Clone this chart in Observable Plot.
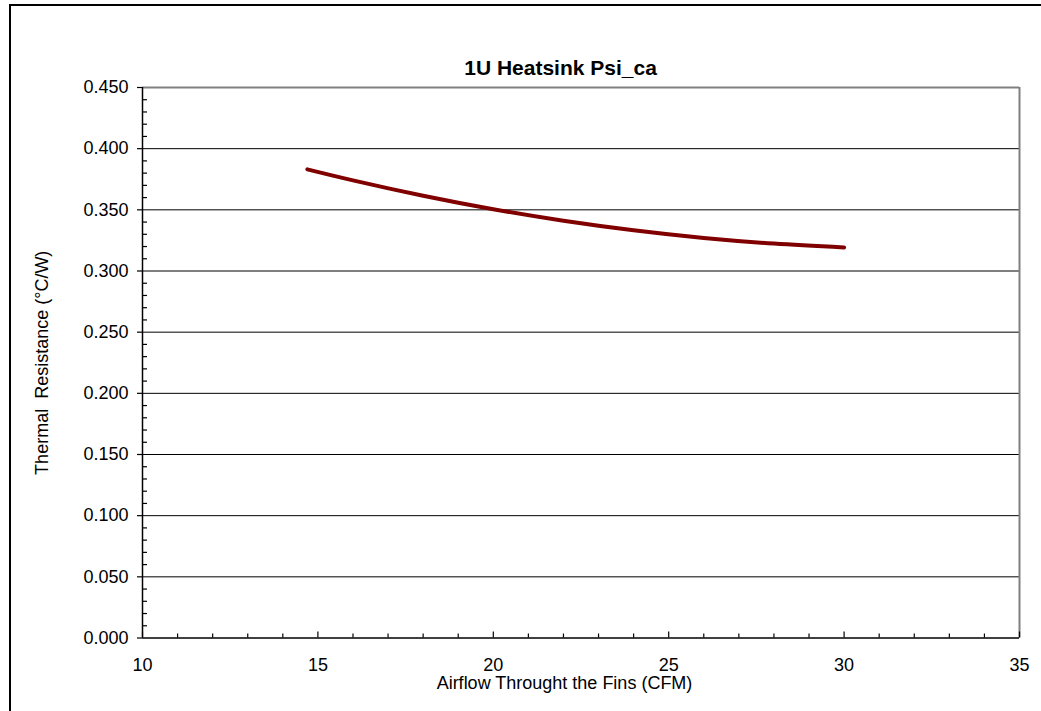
<!DOCTYPE html>
<html>
<head>
<meta charset="utf-8">
<script src="https://cdn.jsdelivr.net/npm/d3@7"></script>
<script src="https://cdn.jsdelivr.net/npm/@observablehq/plot@0.6"></script>
<style>
  html, body { margin: 0; padding: 0; background: #fff; overflow: hidden; }
  #wrap { position: relative; width: 1041px; height: 711px; }
  #border { position: absolute; left: 9px; top: 4px; width: 1200px; height: 900px;
            border-left: 2px solid #000; border-top: 2px solid #000; pointer-events: none; }
  #chart { position: absolute; left: 0; top: 0; }
</style>
</head>
<body>
<div id="wrap"><div id="chart"></div><div id="border"></div></div>
<script>
const titleText = "1U Heatsink Psi_ca";
const xLabel = "Airflow Throught the Fins (CFM)";
const yLabel = "Thermal  Resistance (°C/W)";

const xMajor = [10, 15, 20, 25, 30, 35];
const xMinor = [11,12,13,14,16,17,18,19,21,22,23,24,26,27,28,29,31,32,33,34];
const yMajor = [0, 0.05, 0.10, 0.15, 0.20, 0.25, 0.30, 0.35, 0.40, 0.45];
const yMinor = [0.01,0.02,0.03,0.04,0.06,0.07,0.08,0.09,0.11,0.12,0.13,0.14,0.16,0.17,0.18,0.19,
                0.21,0.22,0.23,0.24,0.26,0.27,0.28,0.29,0.31,0.32,0.33,0.34,0.36,0.37,0.38,0.39,
                0.41,0.42,0.43,0.44];

const airflow = [14.7, 16, 18, 20, 22, 24, 26, 28, 30];
const psiCa   = [0.3831, 0.3741, 0.3615, 0.3505, 0.3411, 0.3333, 0.3270, 0.3224, 0.3193];

const data = airflow.map((x, i) => ({x, y: psiCa[i]}));

const chart = Plot.plot({
  width: 1041,
  height: 711,
  marginLeft: 142,
  marginRight: 22,
  marginTop: 87,
  marginBottom: 73.5,
  x: {domain: [10, 35]},
  y: {domain: [0, 0.45]},
  style: {fontFamily: "'Liberation Sans', Arial, sans-serif", fontSize: "18px", color: "#000", background: "#fff"},
  marks: [
    // gridlines
    Plot.ruleY(yMajor.slice(1, -1), {stroke: "#000", strokeWidth: 1}),
    // plot-area border (top / right)
    Plot.ruleY([0.45], {stroke: "#808080", strokeWidth: 2}),
    Plot.ruleX([35], {stroke: "#808080", strokeWidth: 2}),
    // series
    Plot.line(data, {x: "x", y: "y", curve: "natural", stroke: "#800000", strokeWidth: 4}),
    // axis lines
    Plot.ruleX([10], {stroke: "#000", strokeWidth: 1.5}),
    Plot.ruleY([0], {stroke: "#000", strokeWidth: 1.5}),
    // y axis: major ticks outward, labels
    Plot.axisY(yMajor, {anchor: "left", tickSize: 5, tickFormat: () => "", label: null, strokeWidth: 1.2}),
    Plot.axisY(yMajor, {anchor: "left", tickSize: 0, tickPadding: 14, tickFormat: d => d.toFixed(3), label: null, fontSize: 18}),
    // y minor ticks inward
    Plot.axisY(yMinor, {anchor: "left", tickSize: 5, dx: 5, tickFormat: () => "", label: null, strokeWidth: 1.2}),
    // x axis: major & minor ticks inward
    Plot.axisX(xMajor, {anchor: "bottom", tickSize: 6, dy: -6, tickFormat: () => "", label: null, strokeWidth: 1.2}),
    Plot.axisX(xMinor, {anchor: "bottom", tickSize: 4, dy: -4, tickFormat: () => "", label: null, strokeWidth: 1.2}),
    Plot.axisX(xMajor, {anchor: "bottom", tickSize: 0, tickPadding: 20, tickFormat: d => String(d), label: null, fontSize: 18}),
    // titles
    Plot.text([titleText], {text: d => d, frameAnchor: "top", dx: -20.5, dy: -19.5, lineAnchor: "middle",
                            textAnchor: "middle", fontSize: 21, fontWeight: "bold"}),
    Plot.text([xLabel], {text: d => d, frameAnchor: "bottom", dx: -16.5, dy: 45.5, lineAnchor: "middle",
                         textAnchor: "middle", fontSize: 18}),
    Plot.text([yLabel], {text: d => d, frameAnchor: "left", dx: -100, lineAnchor: "middle", textAnchor: "middle",
                         rotate: -90, fontSize: 18})
  ]
});
document.getElementById("chart").appendChild(chart);
</script>
</body>
</html>
